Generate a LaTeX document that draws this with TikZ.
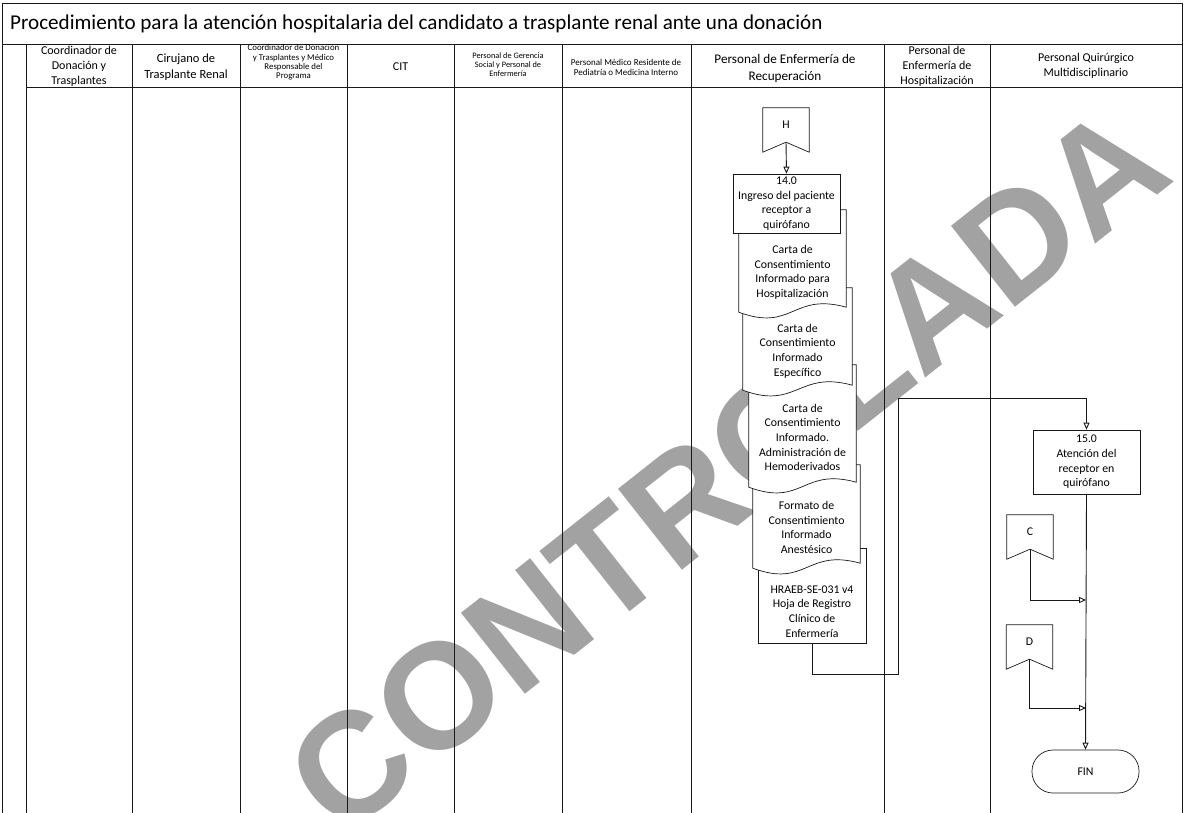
\documentclass[tikz,border=0pt]{standalone}
\usepackage{fontspec}
\setmainfont{Carlito}
\newfontfamily\sellofont{Liberation Sans}
\usepackage{tikz}
\usetikzlibrary{arrows.meta, positioning, calc}
\definecolor{Trazo}{RGB}{25,25,25}
\definecolor{Sello}{RGB}{162,162,162}

\newcommand{\txtnodo}{\fontsize{11.8}{14.6}\selectfont}
\newcommand{\txtcab}{\fontsize{12}{15}\selectfont}

% contorno de documento con borde inferior ondulado
\newcommand{\bordehoja}[1]{%
  \filldraw[hojaborde] (#1.north west) -- (#1.north east) -- ([yshift=5pt]#1.south east)
    .. controls ([xshift=-54pt,yshift=20pt]#1.south east) and ([xshift=54pt,yshift=-20pt]#1.south west) .. (#1.south west) -- cycle;}
% conector fuera de pagina (cinta con muesca)
\newcommand{\bordecinta}[1]{%
  \draw[cintaborde] (#1.south) -- ([yshift=-10pt]#1.south west) -- (#1.north west)
    -- (#1.north east) -- ([yshift=-10pt]#1.south east) -- cycle;}

\begin{document}
\begin{tikzpicture}[x=1pt, y=-1pt,
  marco/.style={draw=Trazo, line width=0.9pt},
  encabezado/.style={align=center, font=\txtcab, inner sep=0pt},
  hojaborde/.style={draw=Trazo, line width=0.7pt, fill=white},
  cintaborde/.style={draw=Trazo, line width=0.7pt},
  hoja/.style={minimum width=107pt, inner sep=0pt},
  textohoja/.style={align=center, font=\txtnodo, inner sep=0pt},
  proceso/.style={draw=Trazo, line width=0.7pt, fill=white, minimum width=107pt,
    align=center, font=\txtnodo, inner sep=0pt},
  cinta/.style={minimum width=46pt, minimum height=34pt, inner sep=0pt, font=\txtnodo},
  terminal/.style={draw=Trazo, line width=0.7pt, rounded corners=21pt, minimum width=107pt,
    minimum height=43pt, font=\txtnodo},
  flecha/.style={draw=Trazo, line width=0.9pt, -{Triangle[open, length=7pt, width=6pt]}},
  sello/.style={text=Sello, font=\sellofont\bfseries\fontsize{150}{150}\selectfont, rotate=38.3, inner sep=0pt}]
  \useasboundingbox (0,0) rectangle (1185,813);

  \node[sello] (marca) at (727,469) {CONTROLADA};

  % marco y carriles
  \draw[marco] (2,813) -- (2,3) -- (1182,3) -- (1182,813);
  \draw[marco] (2,44) -- (1182,44);
  \draw[marco] (26,87) -- (1182,87);
  \foreach \x in {26,132,240,347,454,562,691,884,990}
    \draw[marco] (\x,44) -- (\x,813);

  \node[anchor=west, inner sep=0pt, font=\fontsize{21.1}{24}\selectfont] (titulo) at (10,23.5)
    {Procedimiento para la atención hospitalaria del candidato a trasplante renal ante una donación};

  \node[encabezado] (rol1) at (79,66) {Coordinador de\\Donación y\\Trasplantes};
  \node[encabezado, font=\fontsize{12.5}{15.5}\selectfont] (rol2) at (186,67) {Cirujano de\\Trasplante Renal};
  \node[encabezado, font=\fontsize{8.8}{9.3}\selectfont] (rol3) at (293.5,62.5) {Coordinador de Donación\\y Trasplantes y Médico\\Responsable del\\Programa};
  \node[encabezado] (rol4) at (400.5,67) {CIT};
  \node[encabezado, font=\fontsize{8.3}{9.3}\selectfont] (rol5) at (508,64.5) {Personal de Gerencia\\Social y Personal de\\Enfermería};
  \node[encabezado, font=\fontsize{9}{10.8}\selectfont] (rol6) at (626,67.5) {Personal Médico Residente de\\Pediatría o Medicina Interno};
  \node[encabezado, font=\fontsize{13.2}{17}\selectfont] (rol7) at (785,68) {Personal de Enfermería de\\Recuperación};
  \node[encabezado] (rol8) at (937,66) {Personal de\\Enfermería de\\Hospitalización};
  \node[encabezado] (rol9) at (1086,65.5) {Personal Quirúrgico\\Multidisciplinario};

  % pila de documentos, del fondo al frente
  \node[hoja, draw=Trazo, line width=0.7pt, fill=white, minimum width=108pt, minimum height=95pt] (doc5) at (812,595.5) {};
  \node[textohoja] (txt5) at (812,611.5) {HRAEB-SE-031 v4\\Hoja de Registro\\Clínico de\\Enfermería};
  \node[hoja, minimum height=103pt] (doc4) at (806.5,516.5) {};
  \bordehoja{doc4}
  \node[textohoja] (txt4) at (806.5,527.5) {Formato de\\Consentimiento\\Informado\\Anestésico};
  \node[hoja, minimum height=122pt] (doc3) at (802.5,426) {};
  \bordehoja{doc3}
  \node[textohoja] (txt3) at (802.5,437.5) {Carta de\\Consentimiento\\Informado.\\Administración de\\Hemoderivados};
  \node[hoja, minimum width=109pt, minimum height=102pt] (doc2) at (797.5,339) {};
  \bordehoja{doc2}
  \node[textohoja] (txt2) at (797.5,351) {Carta de\\Consentimiento\\Informado\\Específico};
  \node[hoja, minimum height=102pt] (doc1) at (792.5,261) {};
  \bordehoja{doc1}
  \node[textohoja] (txt1) at (792.5,272.5) {Carta de\\Consentimiento\\Informado para\\Hospitalización};

  \node[proceso, minimum height=59pt] (act14) at (786.5,203.5) {14.0\\Ingreso del paciente\\receptor a\\quirófano};
  \node[cinta] (conH) at (786,125) {H};
  \bordecinta{conH}
  \draw[flecha] (conH.south) -- (act14.north);

  % hacia el quirofano
  \node[proceso, minimum height=64pt] (act15) at (1086.5,462) {15.0\\Atención del\\receptor en\\quirófano};
  \node[terminal] (fin) at (1085.5,771.5) {FIN};
  \coordinate (bajada) at (898,674);
  \coordinate (subida) at (898,398);
  \draw[flecha] (doc5.south) |- (bajada) -- (subida) -| (act15.north);
  \draw[flecha] (act15.south) -- (fin.north);

  \node[cinta] (conC) at (1030,532) {C};
  \bordecinta{conC}
  \node[cinta] (conD) at (1029.5,642) {D};
  \bordecinta{conD}
  \coordinate (llegaC) at (1086,600);
  \coordinate (llegaD) at (1086,708);
  \draw[flecha] (conC.south) |- (llegaC);
  \draw[flecha] (conD.south) |- (llegaD);
\end{tikzpicture}
\end{document}
